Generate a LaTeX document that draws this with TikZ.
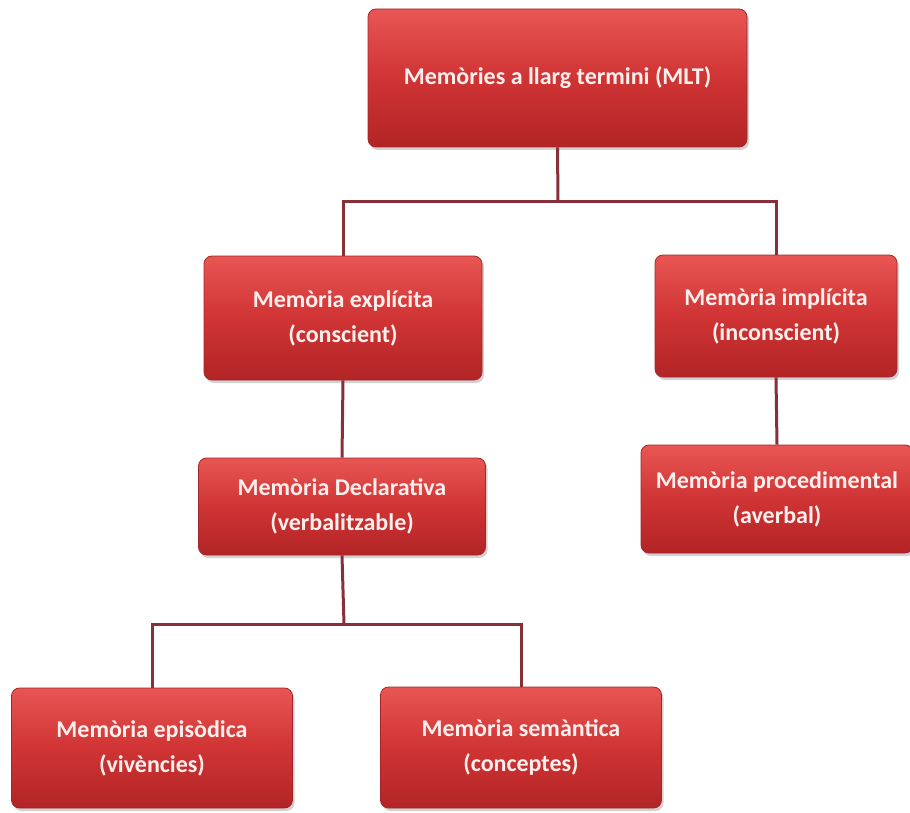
\documentclass[tikz,border=0pt]{standalone}
\usepackage{fontspec}
\setmainfont{Carlito}
\usetikzlibrary{shadows}
\definecolor{boxtop}{RGB}{232,86,84}
\definecolor{boxmid}{RGB}{208,52,52}
\definecolor{boxbot}{RGB}{178,36,38}
\definecolor{boxedge}{RGB}{165,38,40}
\definecolor{conncol}{RGB}{135,48,58}
\definecolor{txtcol}{RGB}{255,240,238}
\tikzset{
  membox/.style={rounded corners=8pt, draw=boxedge, line width=0.8pt,
    top color=boxtop, bottom color=boxbot, middle color=boxmid,
    drop shadow={shadow xshift=2pt, shadow yshift=-3pt, opacity=0.35},
    inner sep=0pt, align=center, text=txtcol,
    font=\bfseries\fontsize{24}{35}\selectfont},
  conn/.style={draw=conncol, line width=3pt}
}
\begin{document}
\begin{tikzpicture}[x=1pt,y=-1pt]
\useasboundingbox[fill=white] (0,0) rectangle (910,813);
% connectors first (behind boxes)
\coordinate (j1) at (558,202);
\coordinate (j2) at (344,624);
\node[membox, minimum width=379pt, minimum height=138pt] (top) at (557.5,78) {Memòries a llarg termini (MLT)};
\node[membox, minimum width=278pt, minimum height=124pt] (expl) at (343,318) {Memòria explícita\\(conscient)};
\node[membox, minimum width=242pt, minimum height=122pt] (impl) at (776,316) {Memòria implícita\\(inconscient)};
\node[membox, minimum width=287pt, minimum height=97pt] (decl) at (342,506.5) {Memòria Declarativa\\(verbalitzable)};
\node[membox, minimum width=272pt, minimum height=108pt] (proc) at (777,499) {Memòria procedimental\\(averbal)};
\node[membox, minimum width=281pt, minimum height=120pt] (epis) at (152,748) {Memòria episòdica\\(vivències)};
\node[membox, minimum width=281pt, minimum height=121pt] (sem) at (521,747.5) {Memòria semàntica\\(conceptes)};
\begin{scope}[on background layer/.style={}]
\end{scope}
\draw[conn] (top.south) -- (j1);
\draw[conn] (j1) -| (expl.north);
\draw[conn] (j1) -| (impl.north);
\draw[conn] (expl.south) -- (decl.north);
\draw[conn] (impl.south) -- (proc.north);
\draw[conn] (decl.south) -- (j2);
\draw[conn] (j2) -| (epis.north);
\draw[conn] (j2) -| (sem.north);
\end{tikzpicture}
\end{document}
